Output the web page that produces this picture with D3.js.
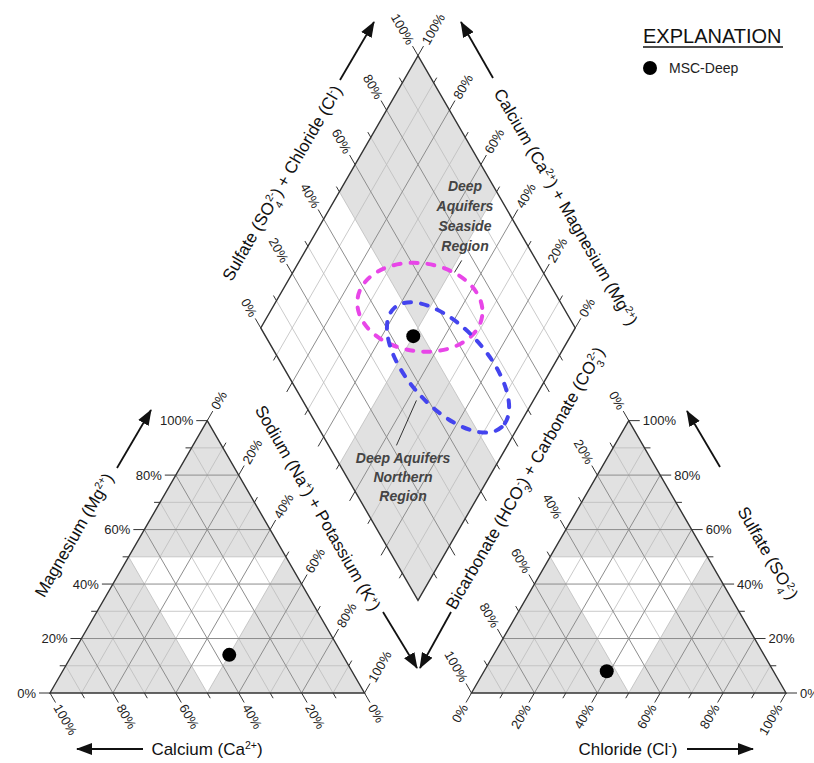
<!DOCTYPE html>
<html>
<head>
<meta charset="utf-8">
<script src="https://cdn.jsdelivr.net/npm/d3@7"></script>
<style>
  body { margin: 0; background: #fff; }
  svg { font-family: "Liberation Sans", Arial, sans-serif; }
</style>
</head>
<body>
<svg id="piper" width="814" height="763"></svg>
<script>
// ---- data (percent of meq/L) ----
var sampleNames = ["MSC-Deep"];
var calcium = [36], magnesium = [14], sodiumPotassium = [50];
var bicarbonate = [53], sulfate = [8], chloride = [39];

var tickValues = [0, 10, 20, 30, 40, 50, 60, 70, 80, 90, 100];
var innerTicks = [10, 20, 30, 40, 50, 60, 70, 80, 90];

// dashed ranges of the deep aquifers, in diamond units (anion %, cation %)
var regionLines = [["Deep", "Aquifers", "Seaside", "Region"], ["Deep Aquifers", "Northern", "Region"]];
var regionColor = ["#e846e8", "#4444ee"];
var regionAnion = [54.4, 52.3];      // SO4 + Cl at centre
var regionCation = [53.2, 33.2];     // Ca + Mg at centre
var regionSemiMajor = [20, 25.5];
var regionSemiMinor = [14, 12.5];
var regionAngle = [8, 48];
// leader lines (anion, cation) -> (anion, cation)
var leaderFrom = [[76.3, 48.5], [21.6, 35.3]];
var leaderTo = [[71.8, 48.6], [36.2, 37.2]];

// ---- geometry ----
var svg = d3.select("#piper");
var side = 314.5, gap = 107, s60 = Math.sqrt(3) / 2;
var pct = d3.scaleLinear().domain([0, 100]).range([0, side]);
var L0 = [50, 693], R0 = [50 + side + gap, 693], D0 = [50 + side + gap / 2, 693 - gap * s60];

function leftPt(ca, mg, na) { return [L0[0] + pct(na) + pct(mg) / 2, L0[1] - pct(mg) * s60]; }
function rightPt(hco3, so4, cl) { return [R0[0] + pct(cl) + pct(so4) / 2, R0[1] - pct(so4) * s60]; }
function diaPt(an, cat) { return [D0[0] + (pct(an) - pct(cat)) / 2, D0[1] - (pct(an) + pct(cat)) * s60]; }

var line = d3.line();
var GRAY = "#e1e1e1";

function polygon(g, pts, fill) {
  g.append("path").attr("d", line(pts) + "Z").attr("fill", fill).attr("stroke", "none");
}
function gridLines(g, segs) {
  segs.sort(function(a, b) { return a.major - b.major; });
  g.selectAll("path.grid").data(segs).enter().append("path")
    .attr("class", "grid")
    .attr("d", function(d) { return line(d.pts); })
    .attr("stroke", function(d) { return d.major ? "#8d8d8d" : "#bdbdbd"; })
    .attr("stroke-width", function(d) { return d.major ? 1 : 0.8; })
    .attr("fill", "none");
}
function ticks(g, spec) {
  var vals = spec.values || tickValues;
  vals.forEach(function(v) {
    var p = spec.pt(v);
    var major = v % 20 === 0;
    var len = major ? 11 : 6;
    g.append("line")
      .attr("x1", p[0]).attr("y1", p[1])
      .attr("x2", p[0] + spec.dir[0] * len).attr("y2", p[1] + spec.dir[1] * len)
      .attr("stroke", "#333").attr("stroke-width", 1);
    if (spec.label && major) {
      var lx = p[0] + spec.dir[0] * (len + 3), ly = p[1] + spec.dir[1] * (len + 3);
      g.append("text")
        .attr("transform", "translate(" + lx + "," + ly + ") rotate(" + spec.rot + ")")
        .attr("text-anchor", spec.anchor)
        .attr("dy", "0.35em")
        .attr("font-size", 13)
        .attr("fill", "#222")
        .text(v + "%");
    }
  });
}

// ---- left (cation) triangle ----
var gl = svg.append("g");
polygon(gl, [leftPt(100, 0, 0), leftPt(0, 100, 0), leftPt(0, 0, 100)], GRAY);
polygon(gl, [leftPt(50, 50, 0), leftPt(0, 50, 50), leftPt(50, 0, 50)], "#fff");
var segL = [];
innerTicks.forEach(function(k) {
  var m = k % 20 === 0;
  segL.push({pts: [leftPt(100 - k, k, 0), leftPt(0, k, 100 - k)], major: m});
  segL.push({pts: [leftPt(100 - k, 0, k), leftPt(0, 100 - k, k)], major: m});
  segL.push({pts: [leftPt(k, 0, 100 - k), leftPt(k, 100 - k, 0)], major: m});
});
gridLines(gl, segL);
gl.append("path").attr("d", line([leftPt(100, 0, 0), leftPt(0, 100, 0), leftPt(0, 0, 100)]) + "Z")
  .attr("fill", "none").attr("stroke", "#333").attr("stroke-width", 1.4);
ticks(gl, {pt: function(v) { return leftPt(100 - v, v, 0); }, dir: [-1, 0], rot: 0, anchor: "end", label: true});
ticks(gl, {pt: function(v) { return leftPt(v, 0, 100 - v); }, dir: [0.5, s60], rot: 60, anchor: "start", label: true});
ticks(gl, {pt: function(v) { return leftPt(0, 100 - v, v); }, dir: [0.5, -s60], rot: -60, anchor: "start", label: true});

// ---- right (anion) triangle ----
var gr = svg.append("g");
polygon(gr, [rightPt(100, 0, 0), rightPt(0, 100, 0), rightPt(0, 0, 100)], GRAY);
polygon(gr, [rightPt(50, 50, 0), rightPt(0, 50, 50), rightPt(50, 0, 50)], "#fff");
var segR = [];
innerTicks.forEach(function(k) {
  var m = k % 20 === 0;
  segR.push({pts: [rightPt(100 - k, k, 0), rightPt(0, k, 100 - k)], major: m});
  segR.push({pts: [rightPt(100 - k, 0, k), rightPt(0, 100 - k, k)], major: m});
  segR.push({pts: [rightPt(k, 0, 100 - k), rightPt(k, 100 - k, 0)], major: m});
});
gridLines(gr, segR);
gr.append("path").attr("d", line([rightPt(100, 0, 0), rightPt(0, 100, 0), rightPt(0, 0, 100)]) + "Z")
  .attr("fill", "none").attr("stroke", "#333").attr("stroke-width", 1.4);
ticks(gr, {pt: function(v) { return rightPt(v, 100 - v, 0); }, dir: [-0.5, -s60], rot: 60, anchor: "end", label: true});
ticks(gr, {pt: function(v) { return rightPt(100 - v, 0, v); }, dir: [-0.5, s60], rot: -60, anchor: "end", label: true});
ticks(gr, {pt: function(v) { return rightPt(0, v, 100 - v); }, dir: [1, 0], rot: 0, anchor: "start", label: true});

// ---- diamond ----
var gd = svg.append("g");
polygon(gd, [diaPt(0, 0), diaPt(100, 0), diaPt(100, 100), diaPt(0, 100)], "#fff");
polygon(gd, [diaPt(50, 50), diaPt(100, 50), diaPt(100, 100), diaPt(50, 100)], GRAY);
polygon(gd, [diaPt(0, 0), diaPt(50, 0), diaPt(50, 50), diaPt(0, 50)], GRAY);
var segD = [];
innerTicks.forEach(function(k) {
  var m = k % 20 === 0;
  segD.push({pts: [diaPt(k, 0), diaPt(k, 100)], major: m});
  segD.push({pts: [diaPt(0, k), diaPt(100, k)], major: m});
});
gridLines(gd, segD);
gd.append("path").attr("d", line([diaPt(0, 0), diaPt(100, 0), diaPt(100, 100), diaPt(0, 100)]) + "Z")
  .attr("fill", "none").attr("stroke", "#333").attr("stroke-width", 1.4);
ticks(gd, {pt: function(v) { return diaPt(v, 100); }, dir: [-0.5, -s60], rot: 60, anchor: "end", label: true});
ticks(gd, {pt: function(v) { return diaPt(100, v); }, dir: [0.5, -s60], rot: -60, anchor: "start", label: true});
ticks(gd, {pt: function(v) { return diaPt(0, v); }, dir: [-0.5, s60], values: innerTicks, label: false});
ticks(gd, {pt: function(v) { return diaPt(v, 0); }, dir: [0.5, s60], values: innerTicks, label: false});

// region ellipses
regionLines.forEach(function(lines, i) {
  var c = diaPt(regionAnion[i], regionCation[i]);
  gd.append("ellipse")
    .attr("transform", "translate(" + c[0] + "," + c[1] + ") rotate(" + regionAngle[i] + ")")
    .attr("rx", pct(regionSemiMajor[i])).attr("ry", pct(regionSemiMinor[i]))
    .attr("fill", "none").attr("stroke", regionColor[i])
    .attr("stroke-width", 4).attr("stroke-dasharray", "7,10").attr("stroke-linecap", "round");
  var a = diaPt(leaderFrom[i][0], leaderFrom[i][1]), b = diaPt(leaderTo[i][0], leaderTo[i][1]);
  gd.append("line").attr("x1", a[0]).attr("y1", a[1]).attr("x2", b[0]).attr("y2", b[1])
    .attr("stroke", "#333").attr("stroke-width", 1);
});

// region labels
var labelX = [465, 403], labelY = [191, 463], labelStep = [20, 19];
regionLines.forEach(function(lines, i) {
  var t = svg.append("text").attr("text-anchor", "middle").attr("font-size", 14)
    .attr("font-weight", "bold").attr("font-style", "italic").attr("fill", "#444");
  lines.forEach(function(s, j) {
    t.append("tspan").attr("x", labelX[i]).attr("y", labelY[i] + j * labelStep[i]).text(s);
  });
});

// ---- sample points ----
var gp = svg.append("g");
sampleNames.forEach(function(n, i) {
  [leftPt(calcium[i], magnesium[i], sodiumPotassium[i]),
   rightPt(bicarbonate[i], sulfate[i], chloride[i]),
   diaPt(sulfate[i] + chloride[i], calcium[i] + magnesium[i])].forEach(function(p) {
    gp.append("circle").attr("cx", p[0]).attr("cy", p[1]).attr("r", 7).attr("fill", "#000");
  });
});

// ---- axis titles ----
function richText(parts, x, y, rot, size) {
  var t = svg.append("text")
    .attr("transform", "translate(" + x + "," + y + ") rotate(" + rot + ")")
    .attr("text-anchor", "middle").attr("dy", "0.35em")
    .attr("font-size", size).attr("fill", "#111");
  parts.forEach(function(p) {
    var ts = t.append("tspan").text(p[0]);
    if (p[1] === "sup") ts.attr("baseline-shift", "super").attr("font-size", size * 0.62);
    if (p[1] === "sub") ts.attr("baseline-shift", "sub").attr("font-size", size * 0.62);
    if (p[2]) ts.attr("dx", p[2]);
  });
}
var T = 17;
richText([["Magnesium (Mg"], ["2+", "sup"], [")"]], 74, 535, -60, T);
richText([["Sodium (Na"], ["+", "sup"], [") + Potassium (K"], ["+", "sup"], [")"]], 318, 508, 60, T);
richText([["Calcium (Ca"], ["2+", "sup"], [")"]], 207, 749, 0, T);
richText([["Chloride (Cl"], ["-", "sup"], [")"]], 628, 749, 0, T);
richText([["Bicarbonate (HCO"], ["3", "sub"], ["-", "sup", -5], [") + Carbonate (CO"], ["3", "sub"], ["2-", "sup", -5], [")"]], 525, 478, -60, T);
richText([["Sulfate (SO"], ["4", "sub"], ["2-", "sup", -5], [")"]], 768, 553, 60, T);
richText([["Sulfate (SO"], ["4", "sub"], ["2-", "sup", -5], [") + Chloride (Cl"], ["-", "sup"], [")"]], 282, 183, -60, T);
richText([["Calcium (Ca"], ["2+", "sup"], [") + Magnesium (Mg"], ["2+", "sup"], [")"]], 566, 207, 60, T);

// ---- arrows ----
svg.append("defs").append("marker")
  .attr("id", "head").attr("markerUnits", "userSpaceOnUse")
  .attr("markerWidth", 16).attr("markerHeight", 12)
  .attr("refX", 15).attr("refY", 6).attr("orient", "auto")
  .append("path").attr("d", "M0,0 L16,6 L0,12 Z").attr("fill", "#111");
var arrows = [
  [117, 468, 151, 410], [383, 612, 417, 668], [451, 612, 420, 668],
  [143, 749, 77, 749], [687, 749, 753, 749], [720, 467, 687, 411],
  [340, 80, 374, 22], [493, 78, 461, 22]
];
arrows.forEach(function(a) {
  svg.append("line").attr("x1", a[0]).attr("y1", a[1]).attr("x2", a[2]).attr("y2", a[3])
    .attr("stroke", "#111").attr("stroke-width", 1.8).attr("marker-end", "url(#head)");
});

// ---- explanation ----
svg.append("text").attr("x", 643).attr("y", 43).attr("font-size", 20).attr("fill", "#111").text("EXPLANATION");
svg.append("line").attr("x1", 643).attr("x2", 783).attr("y1", 47).attr("y2", 47)
  .attr("stroke", "#111").attr("stroke-width", 1.6);
sampleNames.forEach(function(n, i) {
  svg.append("circle").attr("cx", 650).attr("cy", 68 + i * 22).attr("r", 7).attr("fill", "#000");
  svg.append("text").attr("x", 669).attr("y", 73 + i * 22).attr("font-size", 14).attr("fill", "#222").text(n);
});
</script>
</body>
</html>
